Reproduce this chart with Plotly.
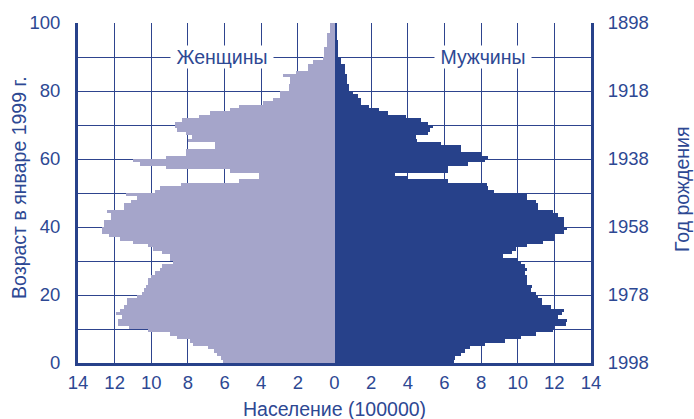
import plotly.graph_objects as go

ages = list(range(0, 100))

female = [6.1, 6.2, 6.4, 6.6, 6.9, 7.7, 7.9, 8.6, 9.0, 10.2,
          11.2, 11.8, 11.8, 11.6, 11.9, 11.7, 11.5, 11.3, 11.3, 10.8,
          10.5, 10.4, 10.3, 10.2, 10.2, 10.0, 9.8, 9.55, 9.4, 8.8,
          9.0, 9.0, 9.4, 9.9, 10.2, 11.0, 11.7, 12.3, 12.7, 12.7,
          12.6, 12.6, 12.2, 12.2, 12.4, 11.5, 11.5, 11.1, 10.8, 11.4,
          9.8, 9.5, 8.4, 5.2, 4.1, 4.1, 5.7, 9.2, 10.6, 11.0,
          9.2, 8.1, 8.1, 6.5, 6.5, 8.0, 7.8, 8.1, 8.6, 8.7,
          8.7, 8.3, 7.4, 6.8, 5.7, 5.2, 3.9, 3.35, 3.0, 3.0,
          2.5, 2.5, 2.45, 2.45, 2.8, 2.1, 1.45, 1.45, 1.2, 0.65,
          0.6, 0.6, 0.6, 0.4, 0.4, 0.4, 0.4, 0.25, 0.25, 0.25]

male = [6.5, 6.6, 6.9, 7.1, 7.4, 8.2, 9.3, 10.2, 11.0, 11.9,
        12.0, 12.65, 12.7, 12.2, 12.4, 12.5, 11.8, 11.3, 11.3, 11.1,
        11.0, 10.7, 10.8, 10.5, 10.5, 10.5, 10.4, 10.5, 10.4, 10.2,
        10.0, 9.2, 9.7, 9.9, 10.5, 11.4, 12.0, 12.0, 12.55, 12.7,
        12.55, 12.5, 12.5, 12.2, 11.9, 11.1, 11.1, 11.0, 10.5, 10.5,
        8.7, 8.4, 8.3, 6.2, 4.0, 3.3, 6.2, 6.2, 7.3, 8.2,
        8.36, 8.0, 6.9, 6.9, 5.8, 4.5, 4.45, 5.1, 5.2, 5.4,
        5.1, 4.7, 3.9, 2.9, 2.45, 1.9, 1.45, 1.45, 1.27, 1.0,
        0.8, 0.8, 0.7, 0.7, 0.7, 0.6, 0.6, 0.6, 0.36, 0.36,
        0.2, 0.2, 0.2, 0.2, 0.2, 0.15, 0.15, 0.15, 0.15, 0.15]

x_ticks = list(range(-14, 15, 2))
x_ticklabels = [str(abs(v)) for v in x_ticks]
age_ticks = list(range(0, 101, 10))
age_ticklabels = [str(v) if v % 20 == 0 else "" for v in age_ticks]
year_ticks = [0, 20, 40, 60, 80, 100]
year_ticklabels = ["1998", "1978", "1958", "1938", "1918", "1898"]

FEMALE_C = "#a5a5ca"
MALE_C = "#27418a"
LINE_C = "#27418a"
GRID_C = "#2e448e"
TEXT_C = "#2d4893"
FONT = "Liberation Sans, Arial, sans-serif"
TICK_SIZE = 18.5
TITLE_SIZE = 19.5

fig = go.Figure()
fig.add_trace(go.Bar(
    y=[a + 0.5 for a in ages], x=[-v for v in female], orientation="h",
    width=1.0, marker=dict(color=FEMALE_C, line=dict(width=0)),
    name="Женщины", showlegend=False,
))
fig.add_trace(go.Bar(
    y=[a + 0.5 for a in ages], x=male, orientation="h",
    width=1.0, marker=dict(color=MALE_C, line=dict(width=0)),
    name="Мужчины", showlegend=False,
))
fig.add_trace(go.Scatter(
    x=[0, 0], y=[0, 100], yaxis="y2", mode="markers",
    marker=dict(opacity=0), hoverinfo="skip", showlegend=False,
))

tickfont = dict(size=TICK_SIZE, color=TEXT_C, family=FONT)
titlefont = dict(size=TITLE_SIZE, color=TEXT_C, family=FONT)

fig.update_layout(
    width=694, height=419,
    margin=dict(l=78, r=103, t=20, b=56),
    paper_bgcolor="white", plot_bgcolor="white",
    barmode="overlay", bargap=0,
    font=dict(family=FONT, size=18, color=TEXT_C),
    xaxis=dict(
        range=[-14, 14], tickvals=x_ticks, ticktext=x_ticklabels,
        showgrid=True, gridcolor=GRID_C, gridwidth=1,
        zeroline=False, showline=True, linecolor=LINE_C, linewidth=3,
        ticks="", ticklabelstandoff=1, tickfont=tickfont, fixedrange=True,
    ),
    yaxis=dict(
        range=[0, 100], tickvals=age_ticks, ticktext=age_ticklabels,
        showgrid=True, gridcolor=GRID_C, gridwidth=1,
        zeroline=False, showline=True, linecolor=LINE_C, linewidth=3,
        ticks="", ticklabelstandoff=11, tickfont=tickfont, fixedrange=True,
    ),
    yaxis2=dict(
        range=[0, 100], overlaying="y", side="right",
        tickvals=year_ticks, ticktext=year_ticklabels,
        showgrid=False, zeroline=False, showline=True,
        linecolor=LINE_C, linewidth=3, ticks="", ticklabelstandoff=10,
        tickfont=tickfont, fixedrange=True,
    ),
    annotations=[
        dict(x=-6.15, y=90, xref="x", yref="y", text=" Женщины ",
             showarrow=False, bgcolor="white", borderpad=0, font=titlefont),
        dict(x=8.1, y=90, xref="x", yref="y", text=" Мужчины ",
             showarrow=False, bgcolor="white", borderpad=0, font=titlefont),
        dict(x=0.5, y=0, xref="paper", yref="paper", yshift=-46,
             text="Население (100000)", showarrow=False,
             xanchor="center", yanchor="middle", font=titlefont),
        dict(x=0, y=0.515, xref="paper", yref="paper", xshift=-59,
             text="Возраст в январе 1999 г.", textangle=-90, showarrow=False,
             xanchor="center", yanchor="middle", font=titlefont),
        dict(x=1, y=0.509, xref="paper", yref="paper", xshift=91,
             text="Год рождения", textangle=-90, showarrow=False,
             xanchor="center", yanchor="middle", font=titlefont),
    ],
)

fig.write_html(
    "out.html",
    config={"displayModeBar": False, "staticPlot": True},
    post_script="document.body.style.margin='0';document.body.style.overflow='hidden';",
)
